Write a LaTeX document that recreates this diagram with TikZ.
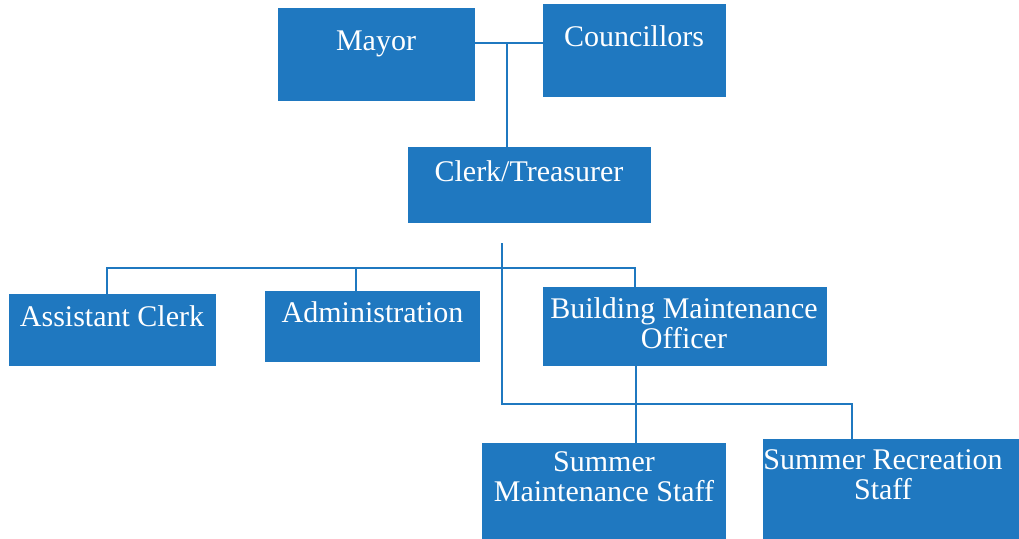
\documentclass[tikz,border=0pt]{standalone}
\usepackage{fontspec}
\setmainfont{Liberation Serif}
\usetikzlibrary{calc}
\definecolor{orgblue}{RGB}{31,120,192}
\begin{document}
\begin{tikzpicture}[x=1pt,y=-1pt,
  box/.style={fill=orgblue, draw=none, inner sep=0pt, anchor=north west},
  lbl/.style={text=white, font=\fontsize{30}{30}\selectfont, inner sep=0pt, anchor=base, align=center},
  conn/.style={draw=orgblue, line width=1.6pt}]
\useasboundingbox (0,0) rectangle (1019,538);
% boxes
\node[box, minimum width=197pt, minimum height=93pt] (mayor) at (278,8) {};
\node[box, minimum width=183pt, minimum height=93pt] (coun) at (543,4) {};
\node[box, minimum width=243pt, minimum height=76pt] (clerk) at (408,147) {};
\node[box, minimum width=207pt, minimum height=72pt] (asst) at (9,294) {};
\node[box, minimum width=215pt, minimum height=71pt] (admin) at (265,291) {};
\node[box, minimum width=284pt, minimum height=79pt] (bmo) at (543,287) {};
\node[box, minimum width=244pt, minimum height=100pt] (smaint) at (482,443) {};
\node[box, minimum width=260pt, minimum height=104pt] (srec) at (763,439) {};
% labels (base = baseline of last line)
\node[lbl] (tmayor) at (376,50) {Mayor};
\node[lbl] (tcoun) at (634,46) {Councillors};
\node[lbl] (tclerk) at (529,181) {Clerk/Treasurer};
\node[lbl] (tasst) at (112,326) {Assistant Clerk};
\node[lbl] (tadmin) at (372.5,322) {Administration};
\node[lbl] (tbmo) at (684,348) {Building Maintenance\\Officer};
\node[lbl] (tsmaint) at (604,501) {Summer\\Maintenance Staff};
\node[lbl] (tsrec) at (883,499) {Summer Recreation\\Staff};
% connectors
\coordinate (j1) at (507,43);
\draw[conn] (mayor.east |- j1) -- (coun.west |- j1);
\draw[conn] (j1) -- (j1 |- clerk.north);
\coordinate (vtop) at (502,243);
\coordinate (vbot) at (502,404);
\coordinate (h1) at (107,268);
\coordinate (h2) at (356,268);
\coordinate (h3) at (635,268);
\draw[conn] (asst.north -| h1) -- (h1) -- (h3) -- (h3 |- bmo.north);
\draw[conn] (h2) -- (h2 |- admin.north);
\draw[conn] (vtop) -- (vbot) -- (852,404) -- (852,0 |- srec.north);
\draw[conn] (636,0 |- bmo.south) -- (636,0 |- smaint.north);
\end{tikzpicture}
\end{document}
